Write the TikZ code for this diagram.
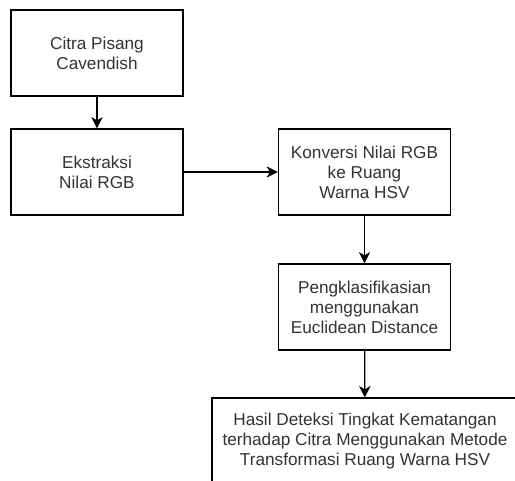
\documentclass[tikz,border=0pt]{standalone}
\usepackage{fontspec}
\setmainfont{Liberation Sans}
\usepackage{xcolor}
\usetikzlibrary{arrows.meta,calc,positioning}

\tikzset{
	stepbox/.style={draw, line width=0.9pt, align=center, text=black!80, minimum width=129pt, minimum height=64.5pt, inner sep=0pt, font=\fontsize{12.9}{15}\selectfont},
	flow/.style={line width=0.9pt, -{Stealth[length=8.5pt, width=8.5pt, inset=2.5pt]}}
}

\begin{document}
\begin{tikzpicture}[x=0.75pt, y=-0.75pt]
		\clip (0,0) rectangle (515,481);
		\node[stepbox] (citra) at (97,53) {Citra Pisang\\Cavendish};
		\node[stepbox] (ekstrak) at (97,172) {Ekstraksi\\Nilai RGB};
		\node[stepbox] (konversi) at (364.5,172) {Konversi Nilai RGB\\ke Ruang\\Warna HSV};
		\node[stepbox] (klasifikasi) at (364.5,307) {Pengklasifikasian\\menggunakan\\Euclidean Distance};
		\node[stepbox, minimum width=229.5pt] (hasil) at (365,441) {Hasil Deteksi Tingkat Kematangan\\terhadap Citra Menggunakan Metode\\Transformasi Ruang Warna HSV};
		% alur
		\draw[flow] (citra) -- (ekstrak);
		\draw[flow] (ekstrak) -- (konversi);
		\draw[flow] (konversi) -- (klasifikasi);
		\draw[flow] (klasifikasi) -- (hasil);
	\end{tikzpicture}
\end{document}
